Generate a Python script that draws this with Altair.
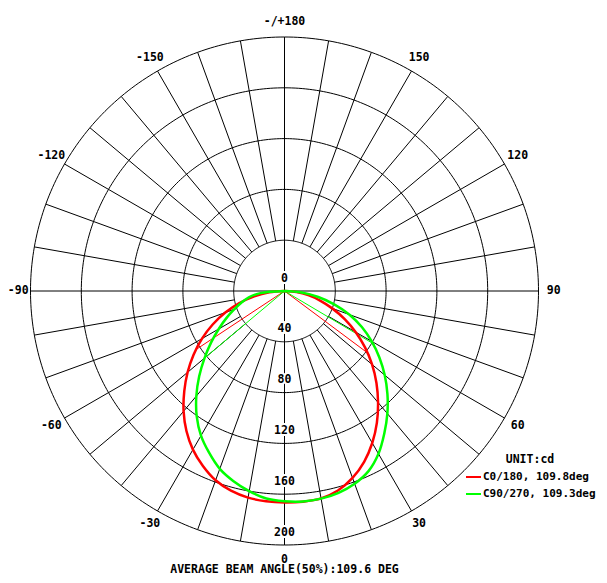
import numpy as np
import pandas as pd
import altair as alt

# ---------------- data ----------------
ANGLES = list(range(-90, 91, 5))  # gamma angle, 0 = straight down
C0_180 = [0, 12.0, 24.2, 36.8, 49.6, 62.4, 75.0, 87.4, 99.6, 111.6, 123.6, 134.6, 144.2, 152.0,
          158.6, 162.8, 165.2, 166.2, 166.5,
          166.5, 165.8, 162.6, 156.6, 148.4, 138.2, 126.8, 114.6, 102.4, 90.0, 77.4, 64.8,
          52.3, 40.0, 29.0, 19.0, 9.5, 0]
C90_270 = [0, 19.0, 28.5, 35.0, 42.0, 50.5, 59.8, 70.5, 82.2, 95.0, 108.0, 120.5, 131.5, 140.5,
           149.0, 155.0, 160.0, 164.0, 165.5,
           166.3, 166.0, 164.5, 161.5, 156.5, 148.0, 137.0, 126.0, 114.6, 103.0, 91.2, 79.3,
           67.2, 54.5, 40.5, 27.0, 13.5, 0]
SERIES = ["C0/180, 109.8deg", "C90/270, 109.3deg"]
COLORS = ["#ff0000", "#00ff00"]
HALF_ANGLES = {SERIES[0]: [-56.5, 53.3], SERIES[1]: [-50.0, 59.3]}
HALF_VALUES = {SERIES[0]: 83.25, SERIES[1]: 82.5}

RINGS = [40, 80, 120, 160, 200]
RING_LABELS = ["0", "40", "80", "120", "160", "200"]
RING_LABEL_VALUES = [0, 40, 80, 120, 160, 200]
ANGLE_TICKS = [0, 30, 60, 90, 120, 150, 180, -150, -120, -90, -60, -30]
ANGLE_TEXT = ["0", "30", "60", "90", "120", "150", "-/+180", "-150", "-120", "-90", "-60", "-30"]
FOOTER = "AVERAGE BEAM ANGLE(50%):109.6 DEG"
UNIT = "UNIT:cd"

# ---------------- layout ----------------
K = 1.27             # px per cd
W, H = 591, 567
CX, CY = 276.5, 283  # centre of the polar diagram inside the view
LABEL_R = 212
FONT = "DejaVu Sans Mono"
FS = 11.5

xs = alt.Scale(domain=[-CX / K, (W - CX) / K], nice=False, zero=False)
ys = alt.Scale(domain=[-(H - CY) / K, CY / K], nice=False, zero=False)
X = alt.X("x:Q", scale=xs, axis=None)
Y = alt.Y("y:Q", scale=ys, axis=None)

# grid circles
t = np.arange(0, 361, 1)
ring_df = pd.concat([
    pd.DataFrame({"x": r * np.sin(np.radians(t)), "y": r * np.cos(np.radians(t)),
                  "i": t, "r": r}) for r in RINGS
])
rings = alt.Chart(ring_df).mark_line(color="black", strokeWidth=1).encode(
    x=X, y=Y, detail="r:N", order="i:Q")

# spokes
rows = []
for a in range(0, 360, 10):
    r0 = 0 if a % 90 == 0 else RINGS[0]
    s, c = np.sin(np.radians(a)), np.cos(np.radians(a))
    rows.append({"x": r0 * s, "y": -r0 * c, "x2": RINGS[-1] * s, "y2": -RINGS[-1] * c})
spokes = alt.Chart(pd.DataFrame(rows)).mark_rule(color="black", strokeWidth=1).encode(
    x=X, y=Y, x2="x2:Q", y2="y2:Q")

# curves
curve_df = pd.DataFrame({
    "a": ANGLES * 2,
    "v": C0_180 + C90_270,
    "series": [SERIES[0]] * len(ANGLES) + [SERIES[1]] * len(ANGLES),
})
color = alt.Color(
    "series:N",
    scale=alt.Scale(domain=SERIES, range=COLORS),
    legend=alt.Legend(
        orient="none", legendX=457, legendY=446, title=UNIT,
        titleFont=FONT, titleFontSize=FS, titleFontWeight="bold", titleColor="black",
        titleAnchor="middle", titlePadding=3,
        labelFont=FONT, labelFontSize=11, labelFontWeight="bold", labelColor="black",
        labelOffset=1, symbolType="stroke", symbolSize=225, symbolStrokeWidth=2,
        rowPadding=3, padding=0, labelLimit=200,
    ),
)
curves = alt.Chart(curve_df).transform_calculate(
    x="datum.v * sin(datum.a * PI / 180)",
    y="-datum.v * cos(datum.a * PI / 180)",
).mark_line(strokeWidth=2.5, interpolate="catmull-rom").encode(
    x=X, y=Y, color=color, order="a:Q")

# half-intensity lines
half_rows = []
for s_ in SERIES:
    for a in HALF_ANGLES[s_]:
        half_rows.append({"series": s_, "a": a, "v": HALF_VALUES[s_]})
half = alt.Chart(pd.DataFrame(half_rows)).transform_calculate(
    x="0", y="0",
    x2="datum.v * sin(datum.a * PI / 180)",
    y2="-datum.v * cos(datum.a * PI / 180)",
).mark_rule(strokeWidth=1).encode(
    x=X, y=Y, x2="x2:Q", y2="y2:Q", color=color)

# radial value labels (with white halo)
rl_df = pd.DataFrame({"x": 0, "y": [-v for v in RING_LABEL_VALUES], "t": RING_LABELS})
rl_halo = alt.Chart(rl_df).mark_text(
    font=FONT, fontSize=FS, fontWeight="bold", color="white", stroke="white",
    strokeWidth=4, dy=-12.5, baseline="middle", align="center").encode(x=X, y=Y, text="t:N")
rl_text = alt.Chart(rl_df).mark_text(
    font=FONT, fontSize=FS, fontWeight="bold", color="black",
    dy=-12.5, baseline="middle", align="center").encode(x=X, y=Y, text="t:N")

# angle labels
al_df = pd.DataFrame({"a": ANGLE_TICKS, "t": ANGLE_TEXT})
al_df = al_df[al_df["a"] != -90]
angle_text = alt.Chart(al_df).transform_calculate(
    x=f"{LABEL_R} * sin(datum.a * PI / 180)",
    y=f"-{LABEL_R} * cos(datum.a * PI / 180)",
).mark_text(font=FONT, fontSize=FS, fontWeight="bold", color="black",
            baseline="middle", align="center").encode(x=X, y=Y, text="t:N")
left_df = pd.DataFrame({"a": [-90], "t": ["-90"]})
left_text = alt.Chart(left_df).transform_calculate(
    x=f"{LABEL_R} * sin(datum.a * PI / 180)",
    y=f"-{LABEL_R} * cos(datum.a * PI / 180)",
).mark_text(font=FONT, fontSize=FS, fontWeight="bold", color="black",
            baseline="middle", align="center", dx=3).encode(x=X, y=Y, text="t:N")

footer = alt.Chart(pd.DataFrame({"t": [FOOTER]})).mark_text(
    font=FONT, fontSize=FS, fontWeight="bold", color="black",
    baseline="middle", align="center").encode(
    x=alt.value(CX), y=alt.value(561.5), text="t:N")

chart = alt.layer(
    rings, spokes, half, curves, rl_halo, rl_text, angle_text, left_text, footer
).properties(
    width=W, height=H, padding=0, autosize=alt.AutoSizeParams(type="none"),
    background="white",
).configure_view(stroke=None)

chart.save("out.html", embed_options={"renderer": "svg", "actions": False})
